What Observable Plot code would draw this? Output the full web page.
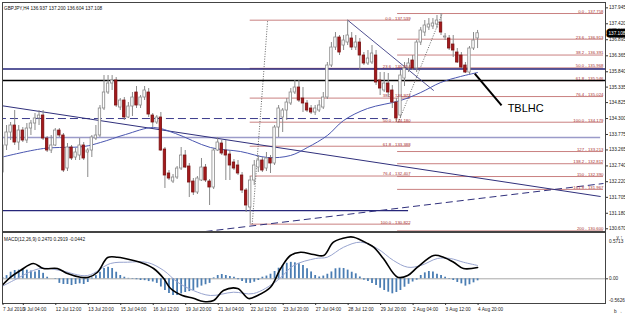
<!DOCTYPE html>
<html><head><meta charset="utf-8">
<script src="https://cdn.jsdelivr.net/npm/d3@7"></script>
<script src="https://cdn.jsdelivr.net/npm/@observablehq/plot@0.6"></script>
<style>
html,body{margin:0;padding:0;background:#fff;}
#wrap{width:625px;height:315px;overflow:hidden;background:#fff;}
#wrap svg{display:block;}
</style></head><body><div id="wrap"></div>
<script>
// ---------- DATA ----------
const symbolHeader = "GBPJPY,H4 136.937 137.200 136.604 137.108";
const macdHeader = "MACD(12,26,9) 0.2470 0.2919 -0.0442";

const open = [132.523,133.412,133.840,134.070,133.510,133.905,133.576,133.971,134.136,134.301,134.399,133.642,133.247,133.412,133.905,133.741,132.654,133.346,133.016,133.082,133.412,133.181,133.247,133.642,133.741,134.630,135.157,135.453,135.552,134.663,134.893,134.334,134.696,135.157,134.729,134.992,135.157,134.399,134.169,134.334,133.280,132.490,132.226,132.358,132.654,133.082,132.720,132.226,131.864,132.259,132.687,132.226,132.029,133.247,133.477,133.247,133.115,132.852,132.753,132.424,131.930,131.370,132.259,132.687,132.918,132.654,132.984,132.819,134.004,134.334,134.564,134.795,135.157,135.321,134.959,134.795,134.630,134.498,134.564,134.663,134.992,136.046,136.638,136.968,136.704,136.803,136.935,136.638,136.803,136.375,136.112,136.145,136.375,135.552,135.223,135.453,135.223,134.827,134.399,135.618,135.947,136.210,135.947,136.803,137.132,137.297,137.330,137.396,137.462,136.968,136.935,136.737,136.474,136.375,136.046,135.815,136.606,136.937];
const high = [133.576,134.070,134.169,134.564,134.070,134.004,134.136,134.235,134.465,134.564,134.564,133.708,133.741,133.971,133.971,133.807,133.477,133.412,133.313,133.642,133.510,133.313,133.741,134.070,134.729,135.716,135.716,135.716,135.651,134.959,134.992,134.827,135.157,135.354,135.058,135.354,135.288,134.465,134.399,134.498,133.346,132.588,132.457,132.720,133.346,133.247,132.819,132.325,132.391,132.984,132.786,132.292,133.313,133.675,133.576,133.576,133.247,132.951,132.918,132.523,131.996,132.391,132.918,133.082,133.016,133.181,133.082,134.070,134.729,134.630,134.959,135.288,135.552,135.552,135.321,134.893,134.729,134.729,134.893,135.157,136.145,136.803,137.132,137.034,137.034,137.539,137.132,137.034,136.935,136.474,136.540,136.704,136.540,135.815,135.815,135.782,135.387,134.959,135.881,136.145,136.276,136.375,136.869,137.297,137.527,137.593,137.593,137.692,137.758,137.099,137.034,137.034,136.606,136.474,136.145,136.671,137.132,137.200];
const low = [132.424,133.247,133.576,133.412,133.247,133.510,133.477,133.741,133.905,134.070,133.576,133.181,133.148,133.379,133.675,132.523,132.555,132.918,132.918,132.918,132.918,132.358,133.016,133.576,133.675,134.564,135.091,135.223,134.663,134.564,134.235,134.301,134.366,134.630,134.630,134.893,134.334,134.004,134.103,133.214,131.996,132.259,132.160,132.292,132.588,132.654,131.699,131.765,131.798,132.226,132.193,131.436,131.963,133.214,133.082,132.259,132.259,132.588,132.424,131.831,131.205,130.822,132.095,132.523,132.523,132.555,132.490,132.753,133.675,133.840,134.235,134.729,135.091,134.827,134.498,134.498,134.432,134.399,134.498,134.597,134.926,135.980,136.540,136.375,136.540,136.704,136.540,136.540,135.881,136.046,136.046,136.079,135.387,135.058,135.157,134.992,134.630,134.179,134.301,135.354,135.815,135.881,135.815,136.704,137.001,137.198,137.231,137.264,137.034,136.869,136.540,136.309,136.112,135.947,135.782,135.749,136.540,136.604];
const close = [133.412,133.840,134.070,133.510,133.905,133.576,133.971,134.136,134.301,134.399,133.642,133.247,133.412,133.905,133.741,132.588,133.346,132.984,133.181,133.412,132.984,133.247,133.675,133.741,134.630,135.157,135.453,135.552,134.729,134.893,134.334,134.696,134.992,134.729,134.992,135.223,134.432,134.169,134.334,133.247,132.424,132.325,132.358,132.654,133.082,132.687,132.193,131.864,132.325,132.687,132.259,132.029,133.247,133.510,133.148,133.082,132.753,132.654,132.490,131.930,131.436,132.259,132.753,132.918,132.588,132.984,132.819,134.004,134.630,134.564,134.827,135.157,135.321,134.893,134.795,134.564,134.498,134.630,134.729,134.992,136.046,136.638,136.968,136.474,136.869,137.034,136.638,136.803,136.375,136.112,136.276,136.441,135.486,135.288,135.453,135.157,134.827,134.301,135.716,135.947,136.112,135.947,136.803,137.198,137.363,137.396,137.429,137.527,137.132,137.001,136.606,136.540,136.145,135.980,135.815,136.606,136.869,137.108];

// moving average (read at points along the curve)
const maBar = [-0.5,10.1,20,24.1,30.3,37.2,42.6,51.2,58.6,65.3,70.9,75.1,80,84,89.9,98,103,107.9,112.8,117];
const maPrice = [133.016,133.313,133.379,133.510,133.774,134.004,133.807,133.346,133.214,133.016,133.082,133.346,133.741,134.235,134.630,134.893,135.157,135.486,135.684,135.815];

// price axis ticks
const priceTicks = [137.945,137.420,136.895,136.365,135.840,135.335,134.825,134.300,133.775,133.265,132.740,132.220,131.705,131.180,130.670];

// date labels
const dateLabels = ["7 Jul 2010","9 Jul 04:00","12 Jul 12:00","13 Jul 20:00","15 Jul 04:00","16 Jul 12:00","19 Jul 20:00","21 Jul 04:00","22 Jul 12:00","23 Jul 20:00","27 Jul 04:00","28 Jul 12:00","29 Jul 20:00","2 Aug 04:00","3 Aug 12:00","4 Aug 20:00"];
const dateBar = [0,5,13,21,29,37,45,53,61,69,77,85,93,101,109,117];

// Fibonacci retracement 1 (left)
const fib1Level = ["0.0","23.6","38.2","50.0","61.8","76.4","100.0"];
const fib1Price = [137.539,135.954,134.973,134.180,133.388,132.407,130.822];
const fib1Bars = [61, 100.5];
const fib1Anchor = {bar: [61.5, 65.3], price: [130.822, 137.539]};
// Fibonacci retracement 2 (right)
const fib2Level = ["0.0","23.6","38.2","50.0","61.8","76.4","100.0","127","138.2","150","161.8","200"];
const fib2Price = [137.758,136.913,136.391,135.968,135.546,135.024,134.179,133.213,132.812,132.390,131.967,130.600];
const fib2Bars = [97.3, 148];
const fib2Anchor = {bar: [97.5, 108.3], price: [134.179, 137.758]};

// horizontal levels
const navyLevel = 135.93, blackLevel = 135.55, greyLevel = 133.675, dashLevel = 134.30, lowLevel = 131.27;
const greyLevelEnd = 147.3, dashLevelEnd = 95, lowLevelEnd = 100;

// trend lines [bar1, price1, bar2, price2]
const downTrend = [-0.5, 134.729, 147.3, 131.732];
const upTrendDashed = [50, 130.58, 148, 132.16];
const peakTrend = [85, 137.54, 106.2, 135.22];

// annotation
const noteText = "TBLHC";
const noteLine = [116.3, 135.78, 122.9, 134.73];
const noteAt = [124.4, 134.50];

// MACD
const macdBar = [-0.5,2,4.4,7.6,10.1,13.5,16,19.2,21.2,23.4,25.9,28.3,32.3,34.7,37.2,39.7,41.4,44.3,47,49.5,52,54.4,57.9,60.6,62.8,66,68.5,70.9,73.4,76.6,79.1,81.5,85,86.5,89.9,91.4,93.8,97.3,99.8,102.2,106.2,108.6,111.1,113.5,117];
const macdMain = [-0.184,0.035,0.182,0.335,0.225,0.225,0.116,0.035,0.035,0.144,0.466,0.473,0.400,0.335,0.225,0.007,-0.212,-0.365,-0.425,-0.497,-0.475,-0.256,-0.212,-0.431,-0.365,-0.184,0.225,0.510,0.582,0.532,0.510,0.801,0.910,0.910,0.772,0.691,0.444,0.035,0.072,0.254,0.510,0.473,0.363,0.225,0.247];
const signalBar = [-0.5,2.7,7.6,10.1,14.3,20.9,26.6,30.8,35.7,39.7,43.1,47,51.2,56.9,61.8,67.7,71.7,77.1,80,84,88.2,92.4,96.3,99.8,103,107.1,110.3,113.5,117];
const signalVal = [-0.184,-0.037,0.182,0.232,0.182,0.072,0.335,0.363,0.357,0.182,-0.074,-0.256,-0.365,-0.293,-0.322,-0.037,0.291,0.444,0.473,0.691,0.801,0.656,0.400,0.254,0.291,0.444,0.444,0.363,0.2919];
const histogram = [0.03,0.07,0.144,0.182,0.19,0.20,0.19,0.17,0.15,0.18,0.12,0.035,0.0,-0.01,-0.10,-0.125,-0.125,-0.147,-0.125,-0.11,-0.125,-0.08,0.02,0.07,0.144,0.225,0.254,0.225,0.144,0.072,0.035,0.01,-0.01,-0.02,-0.037,-0.04,-0.06,-0.07,-0.10,-0.18,-0.256,-0.32,-0.365,-0.365,-0.33,-0.30,-0.28,-0.256,-0.20,-0.16,-0.13,-0.10,0.02,0.072,0.094,0.072,0.05,0.035,-0.02,-0.06,-0.10,-0.10,-0.074,-0.037,0.035,0.06,0.10,0.16,0.232,0.291,0.34,0.36,0.35,0.33,0.29,0.219,0.15,0.072,0.04,0.06,0.10,0.15,0.219,0.232,0.225,0.19,0.144,0.109,0.04,-0.03,-0.06,-0.10,-0.147,-0.206,-0.256,-0.293,-0.328,-0.30,-0.256,-0.184,-0.12,-0.07,-0.03,0.072,0.13,0.16,0.15,0.10,0.07,0.035,-0.01,-0.037,-0.08,-0.11,-0.16,-0.13,-0.088,-0.0442];
const macdScaleTop = "0.5713", macdScaleBottom = "-0.5626";

// ---------- CHART ----------
const FONT = "Liberation Sans, Arial, sans-serif";
const FS = 4.7;
const bars = open.map((o, i) => ({i, o, h: high[i], l: low[i], c: close[i], up: close[i] >= o}));
const seg = a => [{x1: a[0], y1: a[1], x2: a[2], y2: a[3]}];
const xDom = [0, 148.5];

const main = Plot.plot({
  width: 625, height: 232,
  marginLeft: 2, marginRight: 20, marginTop: 2, marginBottom: 1,
  x: {domain: xDom, axis: null},
  y: {domain: [130.580, 138.121], axis: null},
  style: {fontFamily: FONT, fontSize: FS + "px", background: "#fff", overflow: "visible"},
  marks: [
    Plot.ruleY(fib1Price, {y: d => d, x1: fib1Bars[0], x2: fib1Bars[1], stroke: "#c98080", strokeWidth: 1}),
    Plot.ruleY(fib2Price, {y: d => d, x1: fib2Bars[0], x2: fib2Bars[1], stroke: "#c98080", strokeWidth: 1}),
    Plot.ruleY([greyLevel], {x1: 0, x2: greyLevelEnd, stroke: "#9b9bc9", strokeWidth: 1.6, clip: true}),
    Plot.ruleY([dashLevel], {x1: -1, x2: dashLevelEnd, stroke: "#3b3b8c", strokeWidth: 1, strokeDasharray: "8,4", clip: true}),
    Plot.ruleY([lowLevel], {x1: -1, x2: lowLevelEnd, stroke: "#26267a", strokeWidth: 1.3, clip: true}),
    Plot.ruleY([navyLevel], {stroke: "#23237a", strokeWidth: 1.6}),
    Plot.ruleY([blackLevel], {stroke: "#000", strokeWidth: 1.5}),
    Plot.link(seg(downTrend), {x1: "x1", y1: "y1", x2: "x2", y2: "y2", stroke: "#30307c", strokeWidth: 1, clip: true}),
    Plot.link(seg(upTrendDashed), {x1: "x1", y1: "y1", x2: "x2", y2: "y2", stroke: "#30307c", strokeWidth: 1, strokeDasharray: "7,4", clip: true}),
    Plot.link(seg(peakTrend), {x1: "x1", y1: "y1", x2: "x2", y2: "y2", stroke: "#3c3c84", strokeWidth: 0.9}),
    Plot.link([fib1Anchor, fib2Anchor], {x1: d => d.bar[0], y1: d => d.price[0], x2: d => d.bar[1], y2: d => d.price[1], stroke: "#555", strokeWidth: 0.9, strokeDasharray: "1,1.5"}),
    Plot.line(maBar.map((b, k) => ({b, p: maPrice[k]})), {x: "b", y: "p", stroke: "#4a56b0", strokeWidth: 1, curve: "catmull-rom", clip: true}),
    Plot.ruleX(bars, {x: "i", y1: "l", y2: "h", stroke: "#8a8a8a", strokeWidth: 1, clip: true}),
    Plot.rect(bars, {filter: d => d.up, x1: d => d.i - 0.3, x2: d => d.i + 0.3, y1: "o", y2: "c", fill: "#fff", stroke: "#8a8a8a", strokeWidth: 0.8, clip: true}),
    Plot.rect(bars, {filter: d => !d.up, x1: d => d.i - 0.3, x2: d => d.i + 0.3, y1: "o", y2: "c", fill: "#a5191c", stroke: "#7a1212", strokeWidth: 0.8, clip: true}),
    Plot.text(fib1Price, {x: fib1Bars[1], y: d => d, text: (d, i) => `${fib1Level[i]} - ${d.toFixed(3)}`, textAnchor: "end", lineAnchor: "bottom", dy: -0.6, fill: "#a83030", fontSize: 4.3}),
    Plot.text(fib2Price, {x: fib2Bars[1], y: d => d, text: (d, i) => `${fib2Level[i]} - ${d.toFixed(3)}`, textAnchor: "end", lineAnchor: "bottom", dy: -0.6, fill: "#a83030", fontSize: 4.3}),
    Plot.link(seg(noteLine), {x1: "x1", y1: "y1", x2: "x2", y2: "y2", stroke: "#000", strokeWidth: 2}),
    Plot.text([noteText], {x: noteAt[0], y: noteAt[1], text: d => d, textAnchor: "start", lineAnchor: "bottom", fill: "#000", fontSize: 11, fontFamily: FONT}),
    Plot.text([symbolHeader], {frameAnchor: "top-left", dx: 1.5, dy: 4, textAnchor: "start", fill: "#111", fontSize: FS}),
    Plot.frame({stroke: "#444", strokeWidth: 1}),
    Plot.axisY(priceTicks, {anchor: "right", tickSize: 2, tickPadding: 1.5, tickFormat: d => d.toFixed(3), fontSize: FS, fill: "#222", stroke: "#333"}),
    Plot.text([close[close.length - 1]], {y: d => d, frameAnchor: "right", dx: 3, text: d => d.toFixed(3), textAnchor: "start", fill: "#fff", stroke: "#000", strokeWidth: 5, fontSize: FS}),
  ]
});

const macd = Plot.plot({
  width: 625, height: 83,
  marginLeft: 2, marginRight: 20, marginTop: 0, marginBottom: 12,
  x: {domain: xDom, axis: null},
  y: {domain: [-0.540, 1.013], axis: null},
  style: {fontFamily: FONT, fontSize: FS + "px", background: "#fff", overflow: "visible"},
  marks: [
    Plot.ruleY([0], {stroke: "#a8a8a8", strokeWidth: 1}),
    Plot.ruleX(histogram, {x: (d, i) => i, y1: 0, y2: d => d, stroke: "#4a7db3", strokeWidth: 1.8, clip: true}),
    Plot.line(signalBar.map((b, k) => ({b, v: signalVal[k]})), {x: "b", y: "v", stroke: "#98a4cf", strokeWidth: 1, curve: "catmull-rom", clip: true}),
    Plot.line(macdBar.map((b, k) => ({b, v: macdMain[k]})), {x: "b", y: "v", stroke: "#000", strokeWidth: 1.6, curve: "catmull-rom", clip: true}),
    Plot.frame({stroke: "#444", strokeWidth: 1}),
    Plot.text([macdHeader], {frameAnchor: "top-left", dx: 1.5, dy: 5, textAnchor: "start", fill: "#111", fontSize: FS}),
    Plot.axisY([0], {anchor: "right", tickSize: 2, tickPadding: 1.5, tickFormat: d => d.toFixed(2), fontSize: FS, fill: "#222", stroke: "#333"}),
    Plot.text([macdScaleTop], {frameAnchor: "top-right", dx: 3.5, dy: 7.5, textAnchor: "start", fill: "#222", fontSize: FS}),
    Plot.text([macdScaleBottom], {frameAnchor: "bottom-right", dx: 3.5, dy: -1.8, textAnchor: "start", fill: "#222", fontSize: FS}),
    Plot.axisX(dateBar, {anchor: "bottom", tickSize: 2, tickPadding: 1.7, textAnchor: "start", dx: 0.5, tickFormat: d => dateLabels[dateBar.indexOf(d)], fontSize: FS, fill: "#222", stroke: "#333"}),
  ]
});

const wrap = document.getElementById("wrap");
wrap.appendChild(main);
wrap.appendChild(macd);
</script>
</body></html>
